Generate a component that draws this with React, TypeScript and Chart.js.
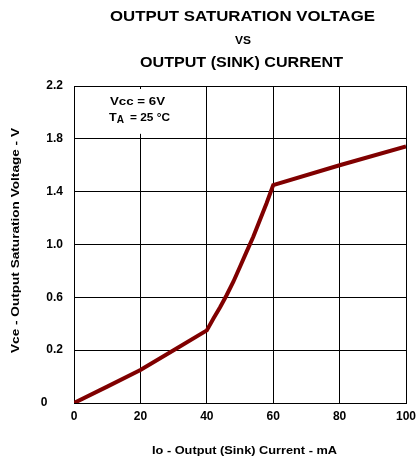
import React, { useEffect, useRef } from 'react';
import { Chart, registerables } from 'chart.js';

Chart.register(...registerables);

// ---- data ----
const currentMA = [0, 10, 20, 30, 40, 42, 44, 46, 48, 50, 52, 54, 56, 58, 60, 80, 100];
const vceVolts = [0, 0.062, 0.125, 0.2, 0.35, 0.44, 0.525, 0.618, 0.718, 0.832, 0.946, 1.059, 1.186, 1.312, 1.45, 1.6, 1.742];
const yTickVolts = [0, 0.2, 0.6, 1.0, 1.4, 1.8, 2.2];
const yTickLabels = ['0', '0.2', '0.6', '1.0', '1.4', '1.8', '2.2'];
const xTickStep = 20;
const xMin = 0;
const xMax = 100;
const titleLines = ['OUTPUT SATURATION VOLTAGE', 'VS', 'OUTPUT (SINK) CURRENT'];
const xTitle = 'Io - Output (Sink) Current - mA';
const yTitle = 'Vce - Output Saturation Voltage - V';
const noteLine1 = 'Vcc = 6V';
const noteT = 'T';
const noteSub = 'A';
const noteRest = '= 25 °C';

const FONT = '"Liberation Sans", Arial, Helvetica, sans-serif';
const LINE_COLOR = '#800000';

// the printed axis is evenly spaced between its (uneven) labels
function voltsToGrid(v: number): number {
  for (let i = 0; i < yTickVolts.length - 1; i++) {
    const a = yTickVolts[i];
    const b = yTickVolts[i + 1];
    if (v <= b || i === yTickVolts.length - 2) {
      return i + (v - a) / (b - a);
    }
  }
  return 0;
}

type FitOpts = {
  x: number;
  baseline: number;
  size: number;
  width?: number;
  align?: CanvasTextAlign;
  rotate?: boolean;
};

function drawFit(ctx: CanvasRenderingContext2D, text: string, o: FitOpts) {
  ctx.save();
  ctx.font = `bold ${o.size}px ${FONT}`;
  const w = ctx.measureText(text).width;
  const sx = o.width ? o.width / w : 1;
  ctx.translate(o.x, o.baseline);
  if (o.rotate) ctx.rotate(-Math.PI / 2);
  ctx.scale(sx, 1);
  ctx.textAlign = o.align || 'center';
  ctx.textBaseline = 'alphabetic';
  ctx.fillStyle = '#000';
  ctx.fillText(text, 0, 0);
  ctx.restore();
}

const decorPlugin = {
  id: 'decor',
  beforeDatasetsDraw(chart: any) {
    const ctx: CanvasRenderingContext2D = chart.ctx;
    const xs = chart.scales.x;
    const ys = chart.scales.y;
    // white note box
    const bx0 = xs.getPixelForValue(0) + 2;
    const bx1 = xs.getPixelForValue(40) - 3;
    const by0 = ys.getPixelForValue(6) + 3;
    const by1 = ys.getPixelForValue(5) - 5;
    ctx.save();
    ctx.fillStyle = '#fff';
    ctx.fillRect(bx0, by0, bx1 - bx0, by1 - by0);
    ctx.restore();
    drawFit(ctx, noteLine1, { x: 110, baseline: 104.7, size: 10, width: 55, align: 'left' });
    drawFit(ctx, noteT, { x: 109, baseline: 120.7, size: 10, width: 7.7, align: 'left' });
    drawFit(ctx, noteSub, { x: 116.7, baseline: 123, size: 10, width: 7.3, align: 'left' });
    drawFit(ctx, noteRest, { x: 130, baseline: 120.7, size: 10, width: 40, align: 'left' });
  },
  afterDraw(chart: any) {
    const ctx: CanvasRenderingContext2D = chart.ctx;
    drawFit(ctx, titleLines[0], { x: 242.5, baseline: 20.7, size: 15, width: 265 });
    drawFit(ctx, titleLines[1], { x: 243, baseline: 44, size: 10, width: 16 });
    drawFit(ctx, titleLines[2], { x: 241.5, baseline: 66.7, size: 15, width: 203 });
    drawFit(ctx, xTitle, { x: 244.5, baseline: 454.3, size: 11, width: 185 });
    drawFit(ctx, yTitle, { x: 18.5, baseline: 240.5, size: 11, width: 225, rotate: true });
    // the "0" label of the value axis sits apart from the others
    drawFit(ctx, yTickLabels[0], { x: 44, baseline: 406, size: 12 });
  },
};

export default function App() {
  const ref = useRef<HTMLCanvasElement | null>(null);

  useEffect(() => {
    document.body.style.margin = '0';
    const canvas = ref.current;
    if (!canvas) return;
    const points = currentMA.map((x, i) => ({ x, y: voltsToGrid(vceVolts[i]) }));
    const chart = new Chart(canvas, {
      type: 'line',
      data: {
        datasets: [
          {
            data: points,
            borderColor: LINE_COLOR,
            backgroundColor: LINE_COLOR,
            borderWidth: 4,
            pointRadius: 0,
            tension: 0,
            fill: false,
          },
        ],
      },
      options: {
        animation: false,
        responsive: false,
        devicePixelRatio: 1,
        layout: { padding: { top: 86, right: 12, left: 0, bottom: 0 } },
        plugins: {
          legend: { display: false },
          tooltip: { enabled: false },
          title: { display: false },
        },
        scales: {
          x: {
            type: 'linear',
            min: xMin,
            max: xMax,
            afterFit: (s: any) => {
              s.height = 56;
              s.paddingLeft = 0;
              s.paddingRight = 0;
            },
            grid: { color: '#000', lineWidth: 1, drawTicks: false },
            border: { color: '#000', width: 1 },
            ticks: {
              stepSize: xTickStep,
              padding: 6,
              color: '#000',
              font: { family: FONT, size: 12, weight: 'bold' },
              maxRotation: 0,
            },
          },
          y: {
            type: 'linear',
            min: 0,
            max: yTickLabels.length - 1,
            afterFit: (s: any) => {
              s.width = 74;
            },
            grid: { color: '#000', lineWidth: 1, drawTicks: false },
            border: { color: '#000', width: 1 },
            ticks: {
              stepSize: 1,
              padding: 11,
              color: '#000',
              font: { family: FONT, size: 12, weight: 'bold' },
              callback: (v: any) => {
                const i = Math.round(Number(v));
                return i === 0 ? '' : yTickLabels[i];
              },
            },
          },
        },
      } as any,
      plugins: [decorPlugin],
    });
    return () => chart.destroy();
  }, []);

  return (
    <div style={{ width: 418, height: 459, position: 'relative' }}>
      <canvas ref={ref} width={418} height={459} style={{ display: 'block' }} />
    </div>
  );
}
